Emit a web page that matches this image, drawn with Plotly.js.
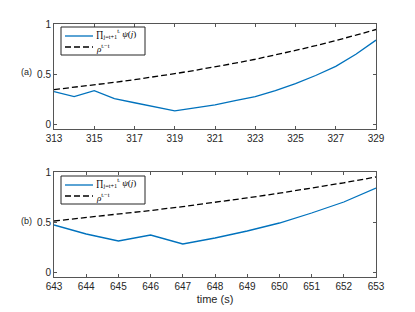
<!DOCTYPE html>
<html><head><meta charset="utf-8">
<script src="https://cdn.plot.ly/plotly-3.0.1.min.js"></script>
<style>html,body{margin:0;padding:0;background:#fff}</style>
</head><body><div id="chart" style="width:415px;height:312px"></div>
<script>
const tA = [313,314,315,316,317,318,319,320,321,322,323,324,325,326,327,328,329];
const psiA = [0.33,0.28,0.34,0.26,0.22,0.18,0.14,0.17,0.20,0.24,0.28,0.34,0.41,0.49,0.58,0.70,0.84];
const rhoA = [0.35,0.372,0.396,0.422,0.449,0.477,0.508,0.541,0.575,0.612,0.651,0.693,0.738,0.785,0.835,0.889,0.946];
const tB = [643,644,645,646,647,648,649,650,651,652,653];
const psiB = [0.47,0.38,0.31,0.37,0.28,0.34,0.41,0.49,0.59,0.70,0.84];
const rhoB = [0.51,0.543,0.578,0.615,0.654,0.696,0.741,0.788,0.839,0.892,0.95];
const ticksA = [313,315,317,319,321,323,325,327,329];
const ticksB = [643,644,645,646,647,648,649,650,651,652,653];
const yTicks = [0,0.5,1];
const yTickText = ['0','0.5','1'];
const nameProd = '∏<sub>j=t+1</sub><sup>tᵢ</sup> <i>ψ</i>(<i>j</i>)';
const nameRho = '<i>ρ</i><sup>tᵢ−t</sup>';
const panelLabels = ['(a)','(b)'];

const blue = '#0072BD';
const dashBlack = {color:'#000',width:1.3,dash:'6px,3px'};
const traces = [
  {x:tA,y:psiA,type:'scatter',mode:'lines',name:nameProd,line:{color:blue,width:1.3},xaxis:'x',yaxis:'y'},
  {x:tA,y:rhoA,type:'scatter',mode:'lines',name:nameRho,line:dashBlack,xaxis:'x',yaxis:'y'},
  {x:tB,y:psiB,type:'scatter',mode:'lines',name:nameProd,line:{color:blue,width:1.3},xaxis:'x2',yaxis:'y2'},
  {x:tB,y:rhoB,type:'scatter',mode:'lines',name:nameRho,line:dashBlack,xaxis:'x2',yaxis:'y2'}
];
const axCommon = {showline:true,mirror:'ticks',linecolor:'#555',linewidth:1,ticks:'inside',ticklen:3,tickcolor:'#555',
  showgrid:false,zeroline:false,tickfont:{family:'Liberation Sans, Arial, sans-serif',size:10,color:'#262626'}};
const W = 415, H = 312;
const px = v => v / W, py = v => 1 - v / H;
const dx = [px(54), px(376)];

const legFont = {family:'Liberation Serif, DejaVu Serif, serif',size:9,color:'#000'};
const shapes = [], annotations = [];
[27, 176].forEach(top => {
  shapes.push({type:'rect',xref:'paper',yref:'paper',x0:px(61),x1:px(145),y0:py(top),y1:py(top+28),
    line:{color:'#262626',width:1},fillcolor:'#fff',layer:'above'});
  shapes.push({type:'line',xref:'paper',yref:'paper',x0:px(65),x1:px(93),y0:py(top+9),y1:py(top+9),
    line:{color:blue,width:1.3},layer:'above'});
  shapes.push({type:'line',xref:'paper',yref:'paper',x0:px(65),x1:px(93),y0:py(top+20),y1:py(top+20),
    line:dashBlack,layer:'above'});
  annotations.push({text:nameProd,xref:'paper',yref:'paper',x:px(95),y:py(top+14),xanchor:'left',yanchor:'bottom',
    showarrow:false,font:legFont,borderpad:0});
  annotations.push({text:nameRho,xref:'paper',yref:'paper',x:px(95),y:py(top+14),xanchor:'left',yanchor:'top',
    showarrow:false,font:legFont,borderpad:0});
});
annotations.push({text:panelLabels[0],xref:'paper',yref:'paper',x:px(26),y:py(72),xanchor:'center',yanchor:'middle',showarrow:false,font:{size:9,color:'#262626'}});
annotations.push({text:panelLabels[1],xref:'paper',yref:'paper',x:px(26),y:py(221),xanchor:'center',yanchor:'middle',showarrow:false,font:{size:9,color:'#262626'}});

const layout = {
  width:W,height:H,margin:{l:0,r:0,t:0,b:0},paper_bgcolor:'#fff',plot_bgcolor:'#fff',
  font:{family:'Liberation Sans, Arial, sans-serif',color:'#262626'},
  showlegend:false,
  xaxis:Object.assign({},axCommon,{domain:dx,range:[313,329],tickvals:ticksA,anchor:'y'}),
  yaxis:Object.assign({},axCommon,{domain:[py(129),py(24)],range:[-0.04,1],tickvals:yTicks,ticktext:yTickText,anchor:'x'}),
  xaxis2:Object.assign({},axCommon,{domain:dx,range:[643,653],tickvals:ticksB,anchor:'y2',
     title:{text:'time (s)',font:{size:11,color:'#262626'},standoff:4}}),
  yaxis2:Object.assign({},axCommon,{domain:[py(277),py(172)],range:[-0.05,1],tickvals:yTicks,ticktext:yTickText,anchor:'x2'}),
  shapes:shapes,
  annotations:annotations
};
Plotly.newPlot('chart',traces,layout,{displayModeBar:false,staticPlot:true});
</script></body></html>
